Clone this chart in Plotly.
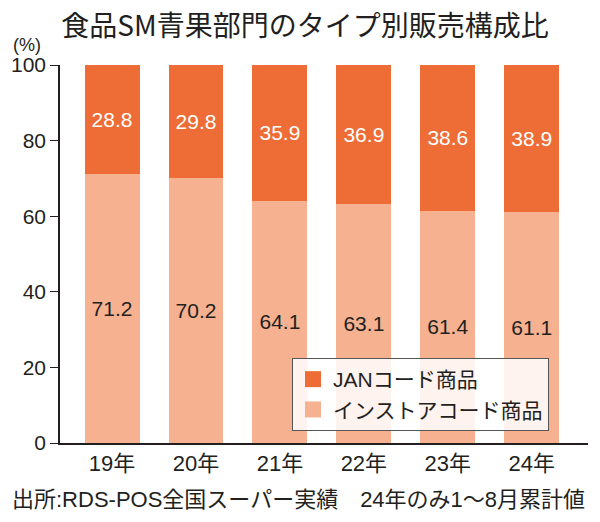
import plotly.graph_objects as go

categories = ["19年", "20年", "21年", "22年", "23年", "24年"]
instore = [71.2, 70.2, 64.1, 63.1, 61.4, 61.1]
jan = [28.8, 29.8, 35.9, 36.9, 38.6, 38.9]
y_ticks = [0, 20, 40, 60, 80, 100]

FONT = "Liberation Sans, Arial, sans-serif"
MIX = "Liberation Sans, Noto Sans CJK JP, sans-serif"
CJK = "Noto Sans CJK JP, sans-serif"
DARK = "#EE6C35"
LIGHT = "#F5B190"
INK = "#231F20"

fig = go.Figure()
fig.add_trace(go.Bar(
    x=categories, y=instore, name="インストアコード商品", showlegend=False,
    marker=dict(color=LIGHT, line=dict(width=0)),
    text=[f"{v:.1f}" for v in instore], textposition="inside",
    insidetextanchor="middle",
    textfont=dict(color=INK, size=21, family=FONT),
))
fig.add_trace(go.Bar(
    x=categories, y=jan, name="JANコード商品", showlegend=False,
    marker=dict(color=DARK, line=dict(width=0)),
    text=[f"{v:.1f}" for v in jan], textposition="inside",
    insidetextanchor="middle",
    textfont=dict(color="white", size=21, family=FONT),
))
# legend entries with larger square swatches
for name, col in [("JANコード商品", DARK), ("インストアコード商品", LIGHT)]:
    fig.add_trace(go.Scatter(
        x=[None], y=[None], mode="markers", name=name,
        marker=dict(symbol="square", size=17, color=col),
    ))

H_plot = 522 - 65 - 79
W_plot = 600 - 60 - 12

fig.update_layout(
    width=600, height=522,
    barmode="stack", bargap=0.345,
    plot_bgcolor="white", paper_bgcolor="white",
    margin=dict(l=60, r=12, t=65, b=79),
    title=dict(text="食品SM青果部門のタイプ別販売構成比", x=(305) / 600, xanchor="center",
               y=1 - 26 / 522, yanchor="middle",
               font=dict(family=CJK, size=28, color=INK)),
    showlegend=True,
    legend=dict(
        x=(292 - 60) / W_plot, y=(443 - 358) / H_plot, xanchor="left", yanchor="top",
        bgcolor="rgba(255,255,255,0.85)", bordercolor="#555555", borderwidth=1,
        traceorder="normal", tracegroupgap=0,
        font=dict(family=MIX, size=21, color=INK),
    ),
    uniformtext=dict(mode=False),
    xaxis=dict(
        range=[-0.62, 5.67], showline=True, linecolor=INK, linewidth=1.5,
        ticks="", tickfont=dict(family=MIX, size=22, color=INK),
    ),
    yaxis=dict(
        range=[0, 100], tickvals=y_ticks, showline=True, linecolor=INK,
        linewidth=1.5, ticks="outside", ticklen=8, tickcolor=INK,
        showgrid=False, zeroline=False,
        tickfont=dict(family=FONT, size=21, color=INK),
    ),
    annotations=[
        dict(text="(%)", x=(27 - 60) / W_plot, y=(443 - 45) / H_plot,
             xref="paper", yref="paper", showarrow=False,
             xanchor="center", yanchor="middle",
             font=dict(family=FONT, size=18, color=INK)),
        dict(text="出所:RDS-POS全国スーパー実績　24年のみ1～8月累計値",
             x=(298 - 60) / W_plot, y=(443 - 499) / H_plot,
             xref="paper", yref="paper", showarrow=False,
             xanchor="center", yanchor="middle",
             font=dict(family=MIX, size=22, color=INK)),
    ],
)

fig.write_html("out.html", config={"displayModeBar": False},
               post_script="document.body.style.margin='0';")
